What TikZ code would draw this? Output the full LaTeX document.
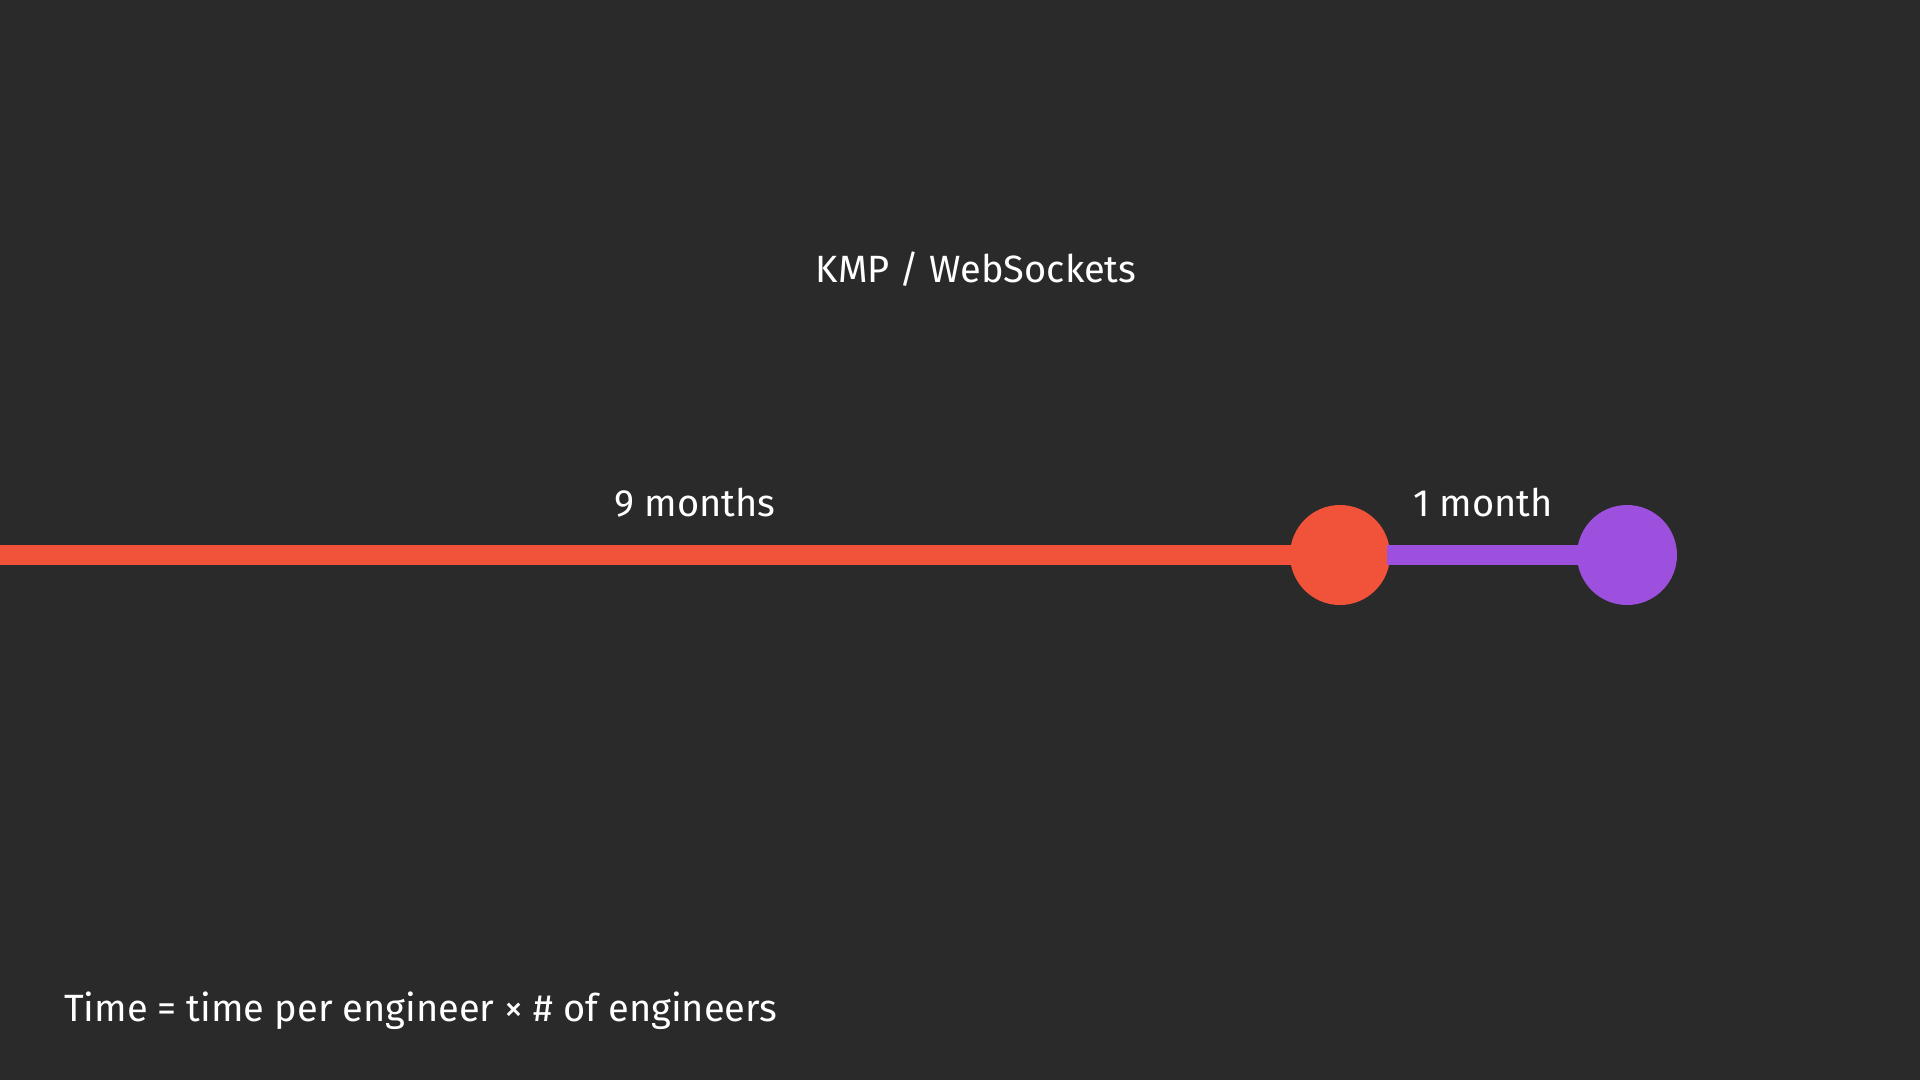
\documentclass[tikz,border=0pt]{standalone}
\usepackage{fontspec}
\setmainfont{Fira Sans}
\definecolor{bg}{RGB}{42,42,42}
\definecolor{tred}{RGB}{240,82,58}
\definecolor{tpurple}{RGB}{157,79,221}
\begin{document}
\begin{tikzpicture}[x=1pt,y=-1pt,
  lbl/.style={text=white,font=\fontsize{38}{46}\selectfont,inner sep=0pt,anchor=base},
  dot/.style={circle,minimum size=100pt,inner sep=0pt},
  bar/.style={line width=20pt,shorten <=-3pt,shorten >=-3pt}]
\fill[bg] (0,0) rectangle (1920,1080);
\useasboundingbox (0,0) rectangle (1920,1080);
\node[lbl] (title) at (976,282) {KMP / WebSockets};
\coordinate (start) at (0,555);
\node[dot,fill=tred] (r) at (1340,555) {};
\node[dot,fill=tpurple] (p) at (1627,555) {};
\draw[bar,tred,shorten <=0pt] (start) -- (r);
\draw[bar,tpurple] (r) -- (p);
\node[lbl] (nine) at (695,516) {9 months};
\node[lbl] (one) at (1483,516) {1 month};
\node[lbl,anchor=base west] (formula) at (64,1021) {Time = time per engineer × \# of engineers};
\end{tikzpicture}
\end{document}
